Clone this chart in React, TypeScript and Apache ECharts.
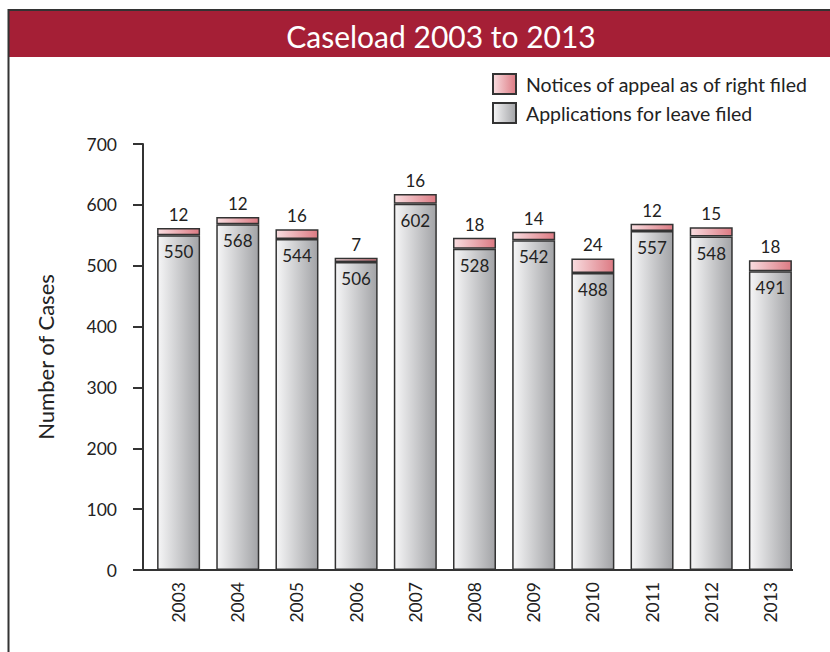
import React, { useEffect, useRef } from "react";
import * as echarts from "echarts";

const years = ["2003", "2004", "2005", "2006", "2007", "2008", "2009", "2010", "2011", "2012", "2013"];
const applications = [550, 568, 544, 506, 602, 528, 542, 488, 557, 548, 491];
const notices = [12, 12, 16, 7, 16, 18, 14, 24, 12, 15, 18];
const yTicks = [0, 100, 200, 300, 400, 500, 600, 700];

const FONT = "Lato, 'Open Sans', sans-serif";

export default function App() {
  const ref = useRef<HTMLDivElement>(null);
  useEffect(() => {
    if (!ref.current) return;
    const chart = echarts.init(ref.current, null, { renderer: "svg" });
    const grayGrad = new echarts.graphic.LinearGradient(0, 0, 1, 0, [
      { offset: 0, color: "#f6f6f7" },
      { offset: 1, color: "#a2a3a6" },
    ]);
    const pinkGrad = new echarts.graphic.LinearGradient(0, 0, 1, 0, [
      { offset: 0, color: "#f9dde0" },
      { offset: 1, color: "#dc7a83" },
    ]);
    chart.setOption({
      animation: false,
      textStyle: { fontFamily: FONT },
      title: {
        text: "Caseload 2003 to 2013",
        left: 436,
        top: 16,
        textAlign: "center",
        textStyle: { color: "#ffffff", fontSize: 30, fontWeight: "normal", fontFamily: FONT },
      },
      graphic: [
        {
          type: "rect",
          shape: { x: 9, y: 11, width: 830, height: 46 },
          style: { fill: "#a51f36" },
          z: -10,
        },
        {
          type: "rect",
          shape: { x: 8.5, y: 10, width: 840, height: 700 },
          style: { fill: "none", stroke: "#333333", lineWidth: 2 },
          z: -5,
        },
        {
          type: "line",
          shape: { x1: 142, y1: 570, x2: 793, y2: 570 },
          style: { stroke: "#333333", lineWidth: 2 },
          z: 10,
        },
      ],
      legend: {
        orient: "vertical",
        left: 487,
        top: 68,
        icon: "rect",
        itemWidth: 23,
        itemHeight: 20,
        itemGap: 7,
        data: ["Notices of appeal as of right filed", "Applications for leave filed"],
        textStyle: { fontSize: 19.5, lineHeight: 20, color: "#222222", fontFamily: FONT, padding: [0, 0, 0, 5] },
      },
      grid: { left: 149, right: 30, top: 144, bottom: 82 },
      xAxis: {
        type: "category",
        data: years,
        axisLine: { show: false },
        axisTick: { show: false },
        axisLabel: { rotate: 90, fontSize: 17.5, color: "#222222", margin: 12, fontFamily: FONT },
      },
      yAxis: {
        type: "value",
        min: yTicks[0],
        max: yTicks[yTicks.length - 1],
        interval: 100,
        offset: 6,
        name: "Number of Cases",
        nameLocation: "middle",
        nameGap: 87,
        nameTextStyle: { fontSize: 22, color: "#222222", fontFamily: FONT },
        splitLine: { show: false },
        axisLine: { show: true, lineStyle: { color: "#333333", width: 2 } },
        axisTick: { show: true, inside: false, length: 10, lineStyle: { color: "#333333", width: 2 } },
        axisLabel: { fontSize: 17.5, color: "#222222", margin: 26, fontFamily: FONT },
      },
      series: [
        {
          name: "Applications for leave filed",
          type: "bar",
          stack: "total",
          data: applications,
          barWidth: 43,
          itemStyle: { color: grayGrad, borderColor: "#333333", borderWidth: 1.5 },
          label: {
            show: true,
            position: "insideTop",
            distance: 8,
            fontSize: 17,
            color: "#222222",
            fontFamily: FONT,
          },
        },
        {
          name: "Notices of appeal as of right filed",
          type: "bar",
          stack: "total",
          data: notices,
          barWidth: 43,
          itemStyle: { color: pinkGrad, borderColor: "#333333", borderWidth: 1.5 },
          label: {
            show: true,
            position: "top",
            distance: 5,
            fontSize: 17,
            color: "#222222",
            fontFamily: FONT,
          },
        },
      ],
    });
    return () => chart.dispose();
  }, []);
  return (
    <div
      ref={ref}
      style={{ position: "absolute", left: 0, top: 0, width: 830, height: 652, background: "#ffffff" }}
    />
  );
}
